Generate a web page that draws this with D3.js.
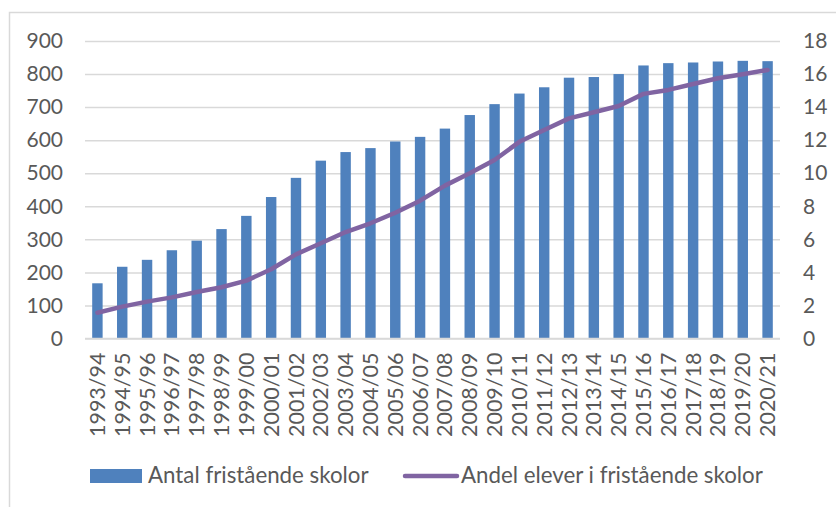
<!DOCTYPE html>
<html>
<head>
<meta charset="utf-8">
<script src="https://cdn.jsdelivr.net/npm/d3@7"></script>
<style>
  body { margin: 0; background: #fff; }
  svg { display: block; font-family: Lato, "Open Sans", sans-serif; }
</style>
</head>
<body>
<svg id="chart" width="836" height="507"></svg>
<script>
// Categories (school years)
const years = ["1993/94","1994/95","1995/96","1996/97","1997/98","1998/99","1999/00",
  "2000/01","2001/02","2002/03","2003/04","2004/05","2005/06","2006/07","2007/08",
  "2008/09","2009/10","2010/11","2011/12","2012/13","2013/14","2014/15","2015/16",
  "2016/17","2017/18","2018/19","2019/20","2020/21"]

// Antal fristående skolor (left axis)
const schools = [167, 217, 238, 267, 296, 331, 371, 428, 486, 538, 564, 576, 596, 610,
  635, 676, 709, 741, 760, 789, 791, 800, 826, 833, 835, 838, 840, 839]

// Andel elever i fristående skolor, procent (right axis)
const share = [1.56, 1.93, 2.23, 2.49, 2.81, 3.1, 3.5, 4.19, 5.09, 5.76, 6.44, 6.97,
  7.61, 8.34, 9.25, 10.0, 10.8, 11.9, 12.62, 13.32, 13.69, 14.07, 14.8, 15.04,
  15.4, 15.75, 15.99, 16.25]

const leftTicks = [0, 100, 200, 300, 400, 500, 600, 700, 800, 900]
const rightTicks = [0, 2, 4, 6, 8, 10, 12, 14, 16, 18]

const labels = ["Antal fristående skolor", "Andel elever i fristående skolor"]

const barColor = "#4f81bd"
const lineColor = "#8064a2"
const textColor = "#595959"
const gridColor = "#d9d9d9"

const svg = d3.select("#chart")

// Outer chart frame (runs off the right and bottom edges)
svg.append("rect")
    .attr("x", 9.5).attr("y", 12.5)
    .attr("width", 840).attr("height", 520)
    .attr("fill", "none")
    .attr("stroke", gridColor)
    .attr("stroke-width", 1.5)

const plot = { left: 85, right: 780, top: 41, bottom: 338.5 }

const x = d3.scaleBand()
    .domain(years)
    .range([plot.left, plot.right])
    .paddingInner(0.58)
    .paddingOuter(0.29)

const yLeft = d3.scaleLinear().domain([0, 900]).range([plot.bottom, plot.top])
const yRight = d3.scaleLinear().domain([0, 18]).range([plot.bottom, plot.top])

// Gridlines
svg.append("g")
    .attr("transform", `translate(${plot.left},0)`)
    .call(d3.axisLeft(yLeft).tickValues(leftTicks).tickSize(-(plot.right - plot.left)).tickFormat(""))
    .call(g => g.select(".domain").remove())
    .call(g => g.selectAll("line").attr("stroke", gridColor).attr("stroke-width", 1.5))

// Left axis labels
svg.append("g")
    .attr("transform", `translate(63,0)`)
    .call(d3.axisLeft(yLeft).tickValues(leftTicks).tickSize(0).tickPadding(0))
    .call(g => g.select(".domain").remove())
    .call(g => g.selectAll("text")
        .attr("fill", textColor)
        .style("font-size", "21px")
        .style("font-family", "Lato, sans-serif"))

// Right axis labels
svg.append("g")
    .attr("transform", `translate(803,0)`)
    .call(d3.axisRight(yRight).tickValues(rightTicks).tickSize(0).tickPadding(0))
    .call(g => g.select(".domain").remove())
    .call(g => g.selectAll("text")
        .attr("fill", textColor)
        .style("font-size", "21px")
        .style("font-family", "Lato, sans-serif"))

// Bars
svg.append("g")
    .selectAll("rect")
    .data(years)
    .join("rect")
        .attr("x", d => x(d))
        .attr("y", (d, i) => yLeft(schools[i]))
        .attr("width", x.bandwidth())
        .attr("height", (d, i) => yLeft(0) - yLeft(schools[i]))
        .attr("fill", barColor)

// Category axis
const xAxis = svg.append("g")
    .attr("transform", `translate(0,${plot.bottom})`)
    .call(d3.axisBottom(x).tickSize(0).tickPadding(0))
xAxis.select(".domain")
    .attr("d", `M${plot.left},0H${plot.right}`)
    .attr("stroke", gridColor)
    .attr("stroke-width", 1.5)
xAxis.selectAll("text")
    .attr("fill", textColor)
    .style("font-size", "21.5px")
    .style("font-family", "Lato, sans-serif")
    .attr("text-anchor", "end")
    .attr("dy", "0.35em")
    .attr("y", 0)
    .attr("transform", "translate(0,14) rotate(-90)")

// Line
const line = d3.line()
    .x((d, i) => x(years[i]) + x.bandwidth() / 2)
    .y(d => yRight(d))

svg.append("path")
    .datum(share)
    .attr("d", line)
    .attr("fill", "none")
    .attr("stroke", lineColor)
    .attr("stroke-width", 4.5)
    .attr("stroke-linejoin", "round")
    .attr("stroke-linecap", "round")

// Legend
const legend = svg.append("g").style("font-family", "Lato, sans-serif").style("font-size", "22.3px")
legend.append("rect")
    .attr("x", 90).attr("y", 469).attr("width", 52).attr("height", 14)
    .attr("fill", barColor)
legend.append("text")
    .attr("x", 148).attr("y", 483)
    .attr("fill", textColor)
    .text(labels[0])
legend.append("line")
    .attr("x1", 405).attr("x2", 457).attr("y1", 476).attr("y2", 476)
    .attr("stroke", lineColor).attr("stroke-width", 4.5).attr("stroke-linecap", "round")
legend.append("text")
    .attr("x", 461).attr("y", 483)
    .attr("fill", textColor)
    .text(labels[1])
</script>
</body>
</html>
